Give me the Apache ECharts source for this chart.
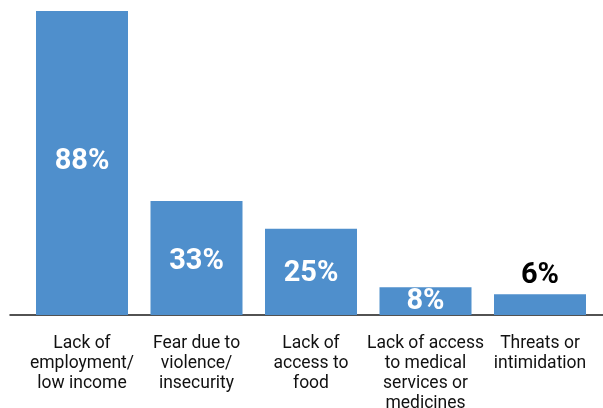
<!DOCTYPE html>
<html>
<head>
<meta charset="utf-8">
<script src="https://cdn.jsdelivr.net/npm/echarts@6/dist/echarts.min.js"></script>
<style>
html,body{margin:0;padding:0;background:#fff;}
#chart{width:603px;height:408px;}
</style>
</head>
<body>
<div id="chart"></div>
<script>
var categories = [
  "Lack of\nemployment/\nlow income",
  "Fear due to\nviolence/\ninsecurity",
  "Lack of\naccess to\nfood",
  "Lack of access\nto medical\nservices or\nmedicines",
  "Threats or\nintimidation"
];
var values = [88, 33, 25, 8, 6];
var labelInside = [true, true, true, true, false];
var labelOffsets = [[0, -1], [0, 4], [0, 2], [0, 1], [0, 0]];

var chart = echarts.init(document.getElementById('chart'), null, {renderer: 'canvas'});

var barData = values.map(function (v, i) {
  var inside = labelInside[i];
  return {
    value: v,
    label: {
      show: true,
      position: inside ? 'inside' : 'top',
      distance: inside ? 5 : 4,
      offset: labelOffsets[i],
      color: inside ? '#ffffff' : '#000000',
      fontFamily: 'Roboto',
      fontWeight: 'bold',
      fontSize: 29,
      formatter: '{c}%'
    }
  };
});

chart.setOption({
  animation: false,
  backgroundColor: '#ffffff',
  grid: [
    {left: 24.75, right: 5.75, top: 11, bottom: 93, containLabel: false, outerBoundsMode: 'none'},
    {left: 10, right: 0, top: 11, bottom: 93, containLabel: false, outerBoundsMode: 'none'}
  ],
  xAxis: [
    {
      type: 'category',
      gridIndex: 0,
      data: categories,
      axisLine: {show: false},
      axisTick: {show: false},
      axisLabel: {
        interval: 0,
        margin: 19,
        color: '#111111',
        fontFamily: 'Roboto',
        fontSize: 17.5,
        lineHeight: 20,
        align: 'center'
      }
    },
    {
      type: 'value',
      gridIndex: 1,
      min: 0,
      max: 1,
      axisLine: {show: true, lineStyle: {color: '#1a1a1a', width: 1.5}},
      axisTick: {show: false},
      axisLabel: {show: false},
      splitLine: {show: false}
    }
  ],
  yAxis: [
    {type: 'value', gridIndex: 0, min: 0, max: 88, show: false, splitLine: {show: false}},
    {type: 'value', gridIndex: 1, min: 0, max: 1, show: false, splitLine: {show: false}}
  ],
  series: [
    {
      type: 'bar',
      xAxisIndex: 0,
      yAxisIndex: 0,
      data: barData,
      barWidth: 92,
      itemStyle: {color: '#4f8fcc'},
      z: 3
    }
  ]
});
</script>
</body>
</html>
